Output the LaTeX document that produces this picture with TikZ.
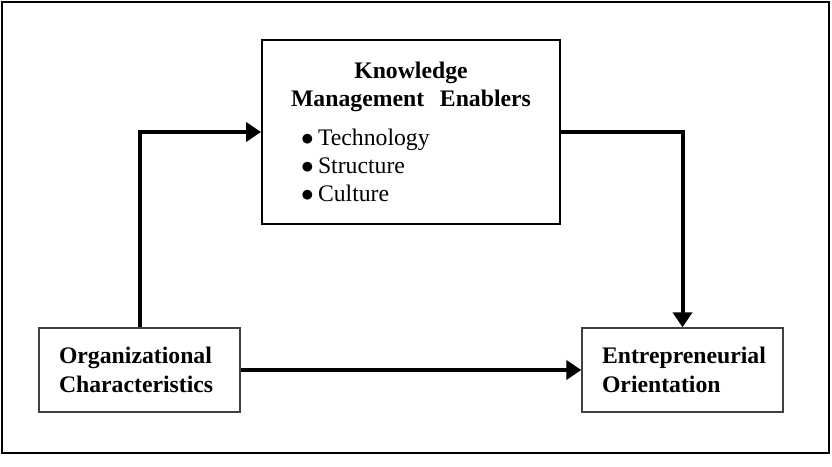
\documentclass[tikz,border=0pt]{standalone}
\usepackage{fontspec}
\setmainfont{Liberation Serif}
\usetikzlibrary{arrows.meta}

\begin{document}
\begin{tikzpicture}[line width=0.4mm,
  bigbox/.style={draw,black,line width=1.1pt,minimum width=5.96cm,minimum height=3.68cm,
    inner xsep=0.2cm,text width=5.56cm,font=\fontsize{13.5}{16}\selectfont},
  smallbox/.style={draw=black!75,text=black,line width=0.8pt,minimum height=1.68cm,
    inner xsep=0.4cm,text width=3.22cm,align=left,font=\fontsize{13.5}{16.5}\selectfont\bfseries},
  flow/.style={line width=0.08cm,-{Triangle[length=0.3cm,width=0.38cm]}}]

% frame
\useasboundingbox (0,0) rectangle (16.64,9.32);
\draw[black,line width=1.1pt] (0.04,0.26) rectangle (16.58,9.28);

% boxes
\node[bigbox] (km) at (8.22,6.68) {%
  {\centering\bfseries Knowledge\\ Management~~Enablers\par}
  \vspace{0.2cm}
  \hspace*{0.58cm}\makebox[0.34cm][l]{$\bullet$}Technology\\
  \hspace*{0.58cm}\makebox[0.34cm][l]{$\bullet$}Structure\\
  \hspace*{0.58cm}\makebox[0.34cm][l]{$\bullet$}Culture};
\node[smallbox] (org) at (2.79,1.92) {Organizational\\Characteristics};
\node[smallbox] (eo) at (13.65,1.92) {Entrepreneurial\\Orientation};

% arrows
\draw[flow] (org.north) |- (km.west);
\draw[flow] (km.east) -| (eo.north);
\draw[flow] (org.east) -- (eo.west);

\end{tikzpicture}
\end{document}
